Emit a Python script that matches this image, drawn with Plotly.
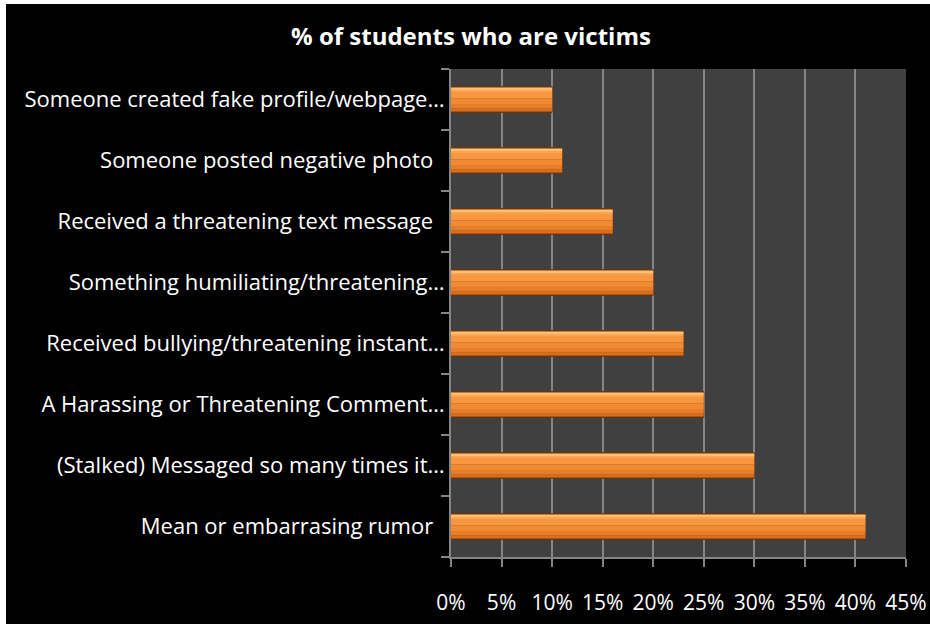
import plotly.graph_objects as go

# Survey categories, listed from the bottom bar to the top bar
categories = [
    "Mean or embarrasing rumor\u00a0\u00a0",
    "(Stalked) Messaged so many times it\u2026",
    "A Harassing or Threatening Comment\u2026",
    "Received bullying/threatening instant\u2026",
    "Something humiliating/threatening\u2026",
    "Received a threatening text message\u00a0\u00a0",
    "Someone posted negative photo\u00a0\u00a0",
    "Someone created fake profile/webpage\u2026",
]
victim_pct = [41, 30, 25, 23, 20, 16, 11, 10]

tick_values = [0, 5, 10, 15, 20, 25, 30, 35, 40, 45]
tick_labels = [f"{v}%" for v in tick_values]

FONT = "'Open Sans', sans-serif"

fig = go.Figure()

# Stacked horizontal bands (bottom to top) build a bevelled orange gradient on a dark rim
rim = dict(offset=-0.21, width=0.42, color="#7E3C09")
bands = [
    (-0.195, 0.05, "#D96F1E"),
    (-0.145, 0.07, "#E67D28"),
    (-0.075, 0.09, "#F18B33"),
    (0.015, 0.11, "#F8973F"),
    (0.125, 0.04, "#FBA550"),
    (0.165, 0.03, "#FDBE76"),
]

fig.add_trace(go.Bar(
    x=victim_pct, y=categories, orientation="h",
    width=rim["width"], offset=rim["offset"],
    marker=dict(color=rim["color"], line=dict(color="#6E3207", width=1)),
    hoverinfo="skip", showlegend=False,
))
for off, w, col in bands:
    fig.add_trace(go.Bar(
        x=victim_pct, y=categories, orientation="h",
        width=w, offset=off,
        marker=dict(color=col, line=dict(width=0)),
        hoverinfo="skip", showlegend=False,
    ))

# White strips along the top and left edges of the black panel
fig.add_shape(type="rect", xref="paper", yref="paper", layer="below",
              x0=-1.2, x1=(6 - 451) / 455, y0=-0.3, y1=1.3,
              fillcolor="white", line=dict(width=0))
fig.add_shape(type="rect", xref="paper", yref="paper", layer="below",
              x0=-1.2, x1=1.2, y0=(557 - 4) / 488, y1=1.3,
              fillcolor="white", line=dict(width=0))

fig.update_layout(
    width=930,
    height=624,
    margin=dict(l=451, r=24, t=69, b=67, autoexpand=False),
    paper_bgcolor="black",
    plot_bgcolor="#404040",
    barmode="overlay",
    title=dict(
        text="<b>% of students who are victims</b>",
        x=471 / 930, xanchor="center",
        y=1 - 37 / 624, yanchor="middle",
        font=dict(family=FONT, size=24, color="white"),
    ),
    font=dict(family=FONT, color="white"),
    xaxis=dict(
        range=[0, 45],
        tickvals=tick_values,
        ticktext=tick_labels,
        tickfont=dict(size=21, color="white"),
        showgrid=True,
        gridcolor="#858585",
        gridwidth=2,
        showline=True,
        linecolor="#858585",
        linewidth=2,
        ticks="outside",
        ticklen=8,
        tickwidth=2,
        tickcolor="#858585",
        zeroline=False,
        fixedrange=True,
        automargin=False,
        ticklabelstandoff=18,
    ),
    yaxis=dict(
        type="category",
        categoryorder="array",
        categoryarray=categories,
        tickfont=dict(size=22, color="white"),
        showline=True,
        linecolor="#858585",
        linewidth=2,
        ticks="outside",
        tickson="boundaries",
        ticklen=8,
        tickwidth=2,
        tickcolor="#858585",
        showgrid=False,
        fixedrange=True,
        automargin=False,
        ticklabelstandoff=0,
    ),
)

fig.write_html("out.html")
